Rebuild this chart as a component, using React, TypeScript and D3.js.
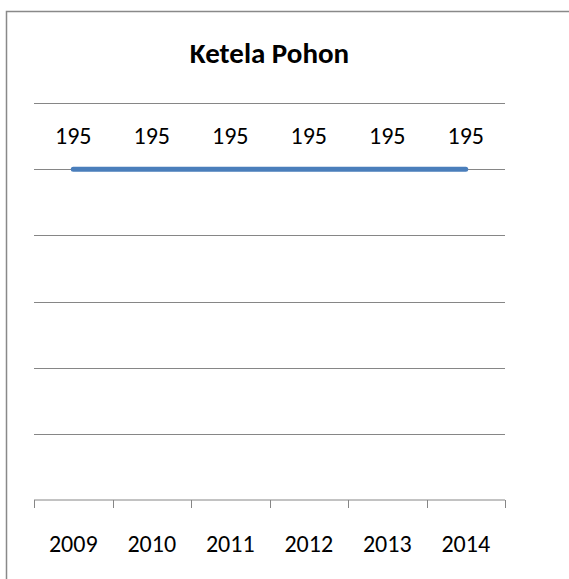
import React from "react";
import * as d3 from "d3";

const years = ["2009", "2010", "2011", "2012", "2013", "2014"];
const values = [195, 195, 195, 195, 195, 195];
const yTicks = [0, 39, 78, 117, 156, 195, 234];
const title = "Ketela Pohon";

const W = 569;
const H = 579;
const FONT = "Carlito, Calibri, 'Liberation Sans', Arial, sans-serif";

export default function App() {
  const x = d3.scaleBand<string>().domain(years).range([34, 505]).padding(0);
  const y = d3.scaleLinear().domain([0, 234]).range([500, 103]);
  const line = d3
    .line<number>()
    .x((_, i) => (x(years[i]) as number) + x.bandwidth() / 2)
    .y((d) => y(d));
  const [x0, x1] = x.range();
  const tickXs = years.map((yr) => x(yr) as number).concat([x1]);

  return (
    <svg
      width={W}
      height={H}
      style={{ position: "absolute", left: 0, top: 0, background: "#fff" }}
    >
      <rect x={6.5} y={11.5} width={700} height={700} fill="#fff" stroke="#898989" strokeWidth={1.5} />
      <text
        x={(x0 + x1) / 2}
        y={63}
        textAnchor="middle"
        fontFamily={FONT}
        fontWeight="bold"
        fontSize={29}
        fill="#000"
      >
        {title}
      </text>
      {yTicks.slice(1).map((t) => (
        <line key={t} x1={x0} x2={x1} y1={Math.round(y(t)) + 0.5} y2={Math.round(y(t)) + 0.5} stroke="#868686" strokeWidth={1} />
      ))}
      <line x1={x0} x2={x1} y1={y(0)} y2={y(0)} stroke="#868686" strokeWidth={1} />
      {tickXs.map((tx, i) => (
        <line key={i} x1={Math.round(tx) + 0.5} x2={Math.round(tx) + 0.5} y1={y(0)} y2={y(0) + 8} stroke="#868686" strokeWidth={1} />
      ))}
      <path d={line(values) || ""} fill="none" stroke="#4a7ebb" strokeWidth={5} strokeLinecap="round" strokeLinejoin="round" />
      {values.map((v, i) => (
        <text
          key={i}
          x={(x(years[i]) as number) + x.bandwidth() / 2}
          y={y(v) - 25}
          textAnchor="middle"
          fontFamily={FONT}
          fontSize={24}
          fill="#000"
        >
          {v}
        </text>
      ))}
      {years.map((yr) => (
        <text
          key={yr}
          x={(x(yr) as number) + x.bandwidth() / 2}
          y={552}
          textAnchor="middle"
          fontFamily={FONT}
          fontSize={24}
          fill="#000"
        >
          {yr}
        </text>
      ))}
    </svg>
  );
}
